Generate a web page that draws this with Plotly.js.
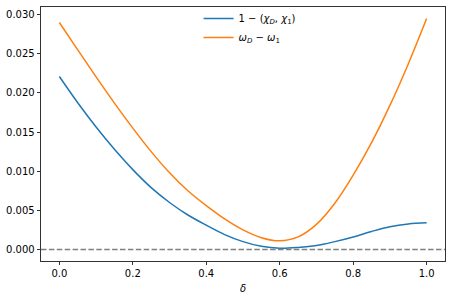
<!DOCTYPE html>
<html>
<head>
<meta charset="utf-8">
<script src="https://cdn.plot.ly/plotly-3.0.1.min.js"></script>
<style>html,body{margin:0;padding:0;background:#fff;}#chart{width:450px;height:300px;}</style>
</head>
<body>
<div id="chart"></div>
<script>
const delta = [0, 0.05, 0.1, 0.15, 0.2, 0.25, 0.3, 0.35, 0.4, 0.45, 0.5, 0.55, 0.6, 0.65, 0.7, 0.75, 0.8, 0.85, 0.9, 0.95, 1.0];
const overlapGap = [0.0221, 0.01875, 0.01565, 0.0128, 0.0102, 0.0079, 0.0060, 0.0044, 0.0031, 0.0019, 0.0010, 0.0004, 0.00015, 0.00025, 0.0005, 0.0010, 0.0016, 0.0023, 0.0029, 0.00325, 0.0034];
const omegaGap = [0.0290, 0.0255, 0.02205, 0.0187, 0.0155, 0.0125, 0.0098, 0.0075, 0.0056, 0.0039, 0.0025, 0.0015, 0.0011, 0.0016, 0.0032, 0.0059, 0.0095, 0.01365, 0.0184, 0.0237, 0.0295];
const seriesNames = ["1 − (<i>χ</i><sub><i>D</i></sub>, <i>χ</i><sub>1</sub>)", "<i>ω</i><sub><i>D</i></sub> − <i>ω</i><sub>1</sub>"];
const xTicks = [0, 0.2, 0.4, 0.6, 0.8, 1.0];
const yTicks = [0, 0.005, 0.01, 0.015, 0.02, 0.025, 0.03];

const font = {family: "DejaVu Sans", size: 10, color: "#000"};
const traces = [
  {x: delta, y: overlapGap, name: seriesNames[0], mode: "lines", line: {color: "#1f77b4", width: 1.5, shape: "spline", smoothing: 1}},
  {x: delta, y: omegaGap, name: seriesNames[1], mode: "lines", line: {color: "#ff7f0e", width: 1.5, shape: "spline", smoothing: 1}}
];
const layout = {
  width: 450, height: 300,
  margin: {l: 41, r: 5, t: 4, b: 39},
  paper_bgcolor: "#fff", plot_bgcolor: "#fff",
  font: font,
  showlegend: true,
  legend: {x: 0.39, xanchor: "left", y: 1.012, yanchor: "top", bgcolor: "rgba(0,0,0,0)", borderwidth: 0, font: font, tracegroupgap: 0},
  xaxis: {
    range: [-0.05, 1.05], tickvals: xTicks, tickformat: ".1f",
    showgrid: false, zeroline: false, showline: true, mirror: true, linecolor: "#000", linewidth: 0.8,
    ticks: "outside", ticklen: 3.5, tickwidth: 0.8, tickcolor: "#000",
    title: {text: "<i>δ</i>", font: font, standoff: 6}
  },
  yaxis: {
    range: [-0.001475, 0.030975], tickvals: yTicks, tickformat: ".3f",
    showgrid: false, zeroline: false, showline: true, mirror: true, linecolor: "#000", linewidth: 0.8,
    ticks: "outside", ticklen: 3.5, tickwidth: 0.8, tickcolor: "#000"
  },
  shapes: [{type: "line", xref: "paper", x0: 0, x1: 1, yref: "y", y0: 0, y1: 0, line: {color: "#808080", width: 1.5, dash: "5.5px,2.4px"}}]
};
Plotly.newPlot("chart", traces, layout, {displayModeBar: false, staticPlot: true});
</script>
</body>
</html>
